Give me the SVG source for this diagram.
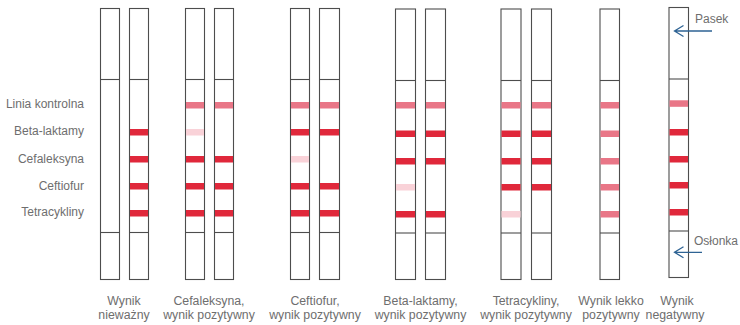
<svg xmlns="http://www.w3.org/2000/svg" width="740" height="325" viewBox="0 0 740 325">
<style>
.s{fill:#fff;stroke:#4d4d4d;stroke-width:1.1}
.d{stroke:#4d4d4d;stroke-width:1.1}
.c{fill:#e97687}
.r{fill:#e0283b}
.p{fill:#f9d2d8}
.t{font-family:"Liberation Sans",Arial,sans-serif;font-size:12px;fill:#6e6e6e}
.lb{text-anchor:end}
.bt{text-anchor:middle;font-size:12.3px}
.ar{stroke:#2e6394;stroke-width:1.3;fill:none}
</style>
<g id="labels">
<text class="t lb" x="84" y="108">Linia kontrolna</text>
<text class="t lb" x="84" y="135">Beta-laktamy</text>
<text class="t lb" x="84" y="163">Cefaleksyna</text>
<text class="t lb" x="84" y="190">Ceftiofur</text>
<text class="t lb" x="84" y="216">Tetracykliny</text>
</g>
<g id="strip1"><rect class="s" x="100.5" y="8.5" width="19" height="271"/><line class="d" x1="100.5" y1="79.5" x2="119.5" y2="79.5"/><line class="d" x1="100.5" y1="232.5" x2="119.5" y2="232.5"/></g>
<g id="strip2"><rect class="s" x="129.5" y="8.5" width="19" height="271"/><line class="d" x1="129.5" y1="79.5" x2="148.5" y2="79.5"/><line class="d" x1="129.5" y1="232.5" x2="148.5" y2="232.5"/>
<rect class="r" x="130" y="129" width="18" height="6.5"/><rect class="r" x="130" y="156" width="18" height="6.5"/><rect class="r" x="130" y="183" width="18" height="6.5"/><rect class="r" x="130" y="210" width="18" height="6.5"/></g>
<g id="strip3"><rect class="s" x="185.5" y="8.5" width="19" height="271"/><line class="d" x1="185.5" y1="79.5" x2="204.5" y2="79.5"/><line class="d" x1="185.5" y1="232.5" x2="204.5" y2="232.5"/>
<rect class="c" x="186" y="102" width="18" height="6.5"/><rect class="p" x="186" y="129" width="18" height="6.5"/><rect class="r" x="186" y="156" width="18" height="6.5"/><rect class="r" x="186" y="183" width="18" height="6.5"/><rect class="r" x="186" y="210" width="18" height="6.5"/></g>
<g id="strip4"><rect class="s" x="214.5" y="8.5" width="19" height="271"/><line class="d" x1="214.5" y1="79.5" x2="233.5" y2="79.5"/><line class="d" x1="214.5" y1="232.5" x2="233.5" y2="232.5"/>
<rect class="c" x="215" y="102" width="18" height="6.5"/><rect class="r" x="215" y="156" width="18" height="6.5"/><rect class="r" x="215" y="183" width="18" height="6.5"/><rect class="r" x="215" y="210" width="18" height="6.5"/></g>
<g id="strip5"><rect class="s" x="290.5" y="8.5" width="19" height="271"/><line class="d" x1="290.5" y1="79.5" x2="309.5" y2="79.5"/><line class="d" x1="290.5" y1="232.5" x2="309.5" y2="232.5"/>
<rect class="c" x="291" y="102" width="18" height="6.5"/><rect class="r" x="291" y="129" width="18" height="6.5"/><rect class="p" x="291" y="156" width="18" height="6.5"/><rect class="r" x="291" y="183" width="18" height="6.5"/><rect class="r" x="291" y="210" width="18" height="6.5"/></g>
<g id="strip6"><rect class="s" x="319.5" y="8.5" width="20" height="271"/><line class="d" x1="319.5" y1="79.5" x2="339.5" y2="79.5"/><line class="d" x1="319.5" y1="232.5" x2="339.5" y2="232.5"/>
<rect class="c" x="320" y="102" width="19" height="6.5"/><rect class="r" x="320" y="129" width="19" height="6.5"/><rect class="r" x="320" y="183" width="19" height="6.5"/><rect class="r" x="320" y="210" width="19" height="6.5"/></g>
<g id="strip7"><rect class="s" x="395.5" y="9" width="20" height="270.5"/><line class="d" x1="395.5" y1="80.5" x2="415.5" y2="80.5"/><line class="d" x1="395.5" y1="233" x2="415.5" y2="233"/>
<rect class="c" x="396" y="102" width="19" height="6.5"/><rect class="r" x="396" y="130.5" width="19" height="6.5"/><rect class="r" x="396" y="158" width="19" height="6.5"/><rect class="p" x="396" y="184" width="19" height="6.5"/><rect class="r" x="396" y="211" width="19" height="6.5"/></g>
<g id="strip8"><rect class="s" x="425.5" y="9" width="20" height="270.5"/><line class="d" x1="425.5" y1="80.5" x2="445.5" y2="80.5"/><line class="d" x1="425.5" y1="233" x2="445.5" y2="233"/>
<rect class="c" x="426" y="102" width="19" height="6.5"/><rect class="r" x="426" y="130.5" width="19" height="6.5"/><rect class="r" x="426" y="158" width="19" height="6.5"/><rect class="r" x="426" y="211" width="19" height="6.5"/></g>
<g id="strip9"><rect class="s" x="501" y="9" width="20" height="270.5"/><line class="d" x1="501" y1="80.5" x2="521" y2="80.5"/><line class="d" x1="501" y1="233" x2="521" y2="233"/>
<rect class="c" x="501.5" y="102" width="19" height="6.5"/><rect class="r" x="501.5" y="130.5" width="19" height="6.5"/><rect class="r" x="501.5" y="158" width="19" height="6.5"/><rect class="r" x="501.5" y="184" width="19" height="6.5"/><rect class="p" x="501.5" y="211" width="19" height="6.5"/></g>
<g id="strip10"><rect class="s" x="531.5" y="9" width="20" height="270.5"/><line class="d" x1="531.5" y1="80.5" x2="551.5" y2="80.5"/><line class="d" x1="531.5" y1="233" x2="551.5" y2="233"/>
<rect class="c" x="532" y="102" width="19" height="6.5"/><rect class="r" x="532" y="130.5" width="19" height="6.5"/><rect class="r" x="532" y="158" width="19" height="6.5"/><rect class="r" x="532" y="184" width="19" height="6.5"/></g>
<g id="strip11"><rect class="s" x="600" y="9" width="19.5" height="270.5"/><line class="d" x1="600" y1="80.5" x2="619.5" y2="80.5"/><line class="d" x1="600" y1="233" x2="619.5" y2="233"/>
<rect class="c" x="600.5" y="102" width="18.5" height="6.5"/><rect class="c" x="600.5" y="130.5" width="18.5" height="6.5"/><rect class="c" x="600.5" y="158" width="18.5" height="6.5"/><rect class="c" x="600.5" y="184" width="18.5" height="6.5"/><rect class="c" x="600.5" y="211" width="18.5" height="6.5"/></g>
<g id="strip12"><rect class="s" x="669" y="7.5" width="19.5" height="270"/><line class="d" x1="669" y1="79" x2="688.5" y2="79"/><line class="d" x1="669" y1="231" x2="688.5" y2="231"/>
<rect class="c" x="669.5" y="100.3" width="18.5" height="6.5"/><rect class="r" x="669.5" y="129" width="18.5" height="6.5"/><rect class="r" x="669.5" y="156" width="18.5" height="6.5"/><rect class="r" x="669.5" y="182" width="18.5" height="6.5"/><rect class="r" x="669.5" y="209" width="18.5" height="6.5"/></g>
<g id="connectors">
<path class="ar" d="M712 31H674.5M683.5 25.5L674.5 31L683.5 36.5"/>
<path class="ar" d="M702 252.3H674.5M683.5 246.8L674.5 252.3L683.5 257.8"/>
</g>
<g id="annotations">
<text class="t" x="695" y="23">Pasek</text>
<text class="t" x="694" y="245">Osłonka</text>
</g>
<g id="captions">
<text class="t bt" x="124" y="305">Wynik</text><text class="t bt" x="124" y="319">nieważny</text>
<text class="t bt" x="209" y="305">Cefaleksyna,</text><text class="t bt" x="209" y="319">wynik pozytywny</text>
<text class="t bt" x="315" y="305">Ceftiofur,</text><text class="t bt" x="315" y="319">wynik pozytywny</text>
<text class="t bt" x="420.5" y="305">Beta-laktamy,</text><text class="t bt" x="420.5" y="319">wynik pozytywny</text>
<text class="t bt" x="526" y="305">Tetracykliny,</text><text class="t bt" x="526" y="319">wynik pozytywny</text>
<text class="t bt" x="611" y="305">Wynik lekko</text><text class="t bt" x="611" y="319">pozytywny</text>
<text class="t bt" x="677" y="305">Wynik</text><text class="t bt" x="675" y="319">negatywny</text>
</g>
</svg>
